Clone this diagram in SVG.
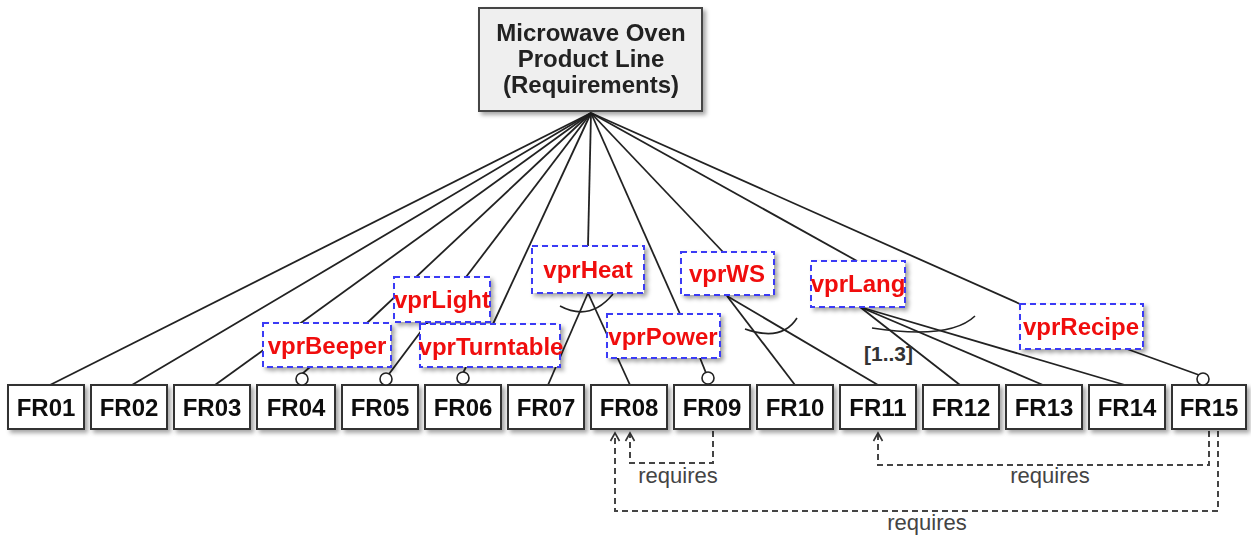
<svg xmlns="http://www.w3.org/2000/svg" width="1251" height="538" viewBox="0 0 1251 538">
<defs>
<filter id="sh" x="-10%" y="-10%" width="130%" height="140%">
<feDropShadow dx="3" dy="3" stdDeviation="2" flood-color="#000" flood-opacity="0.35"/>
</filter>
<marker id="arr" markerWidth="12" markerHeight="12" refX="0" refY="0" viewBox="-10 -6 12 12" orient="auto" markerUnits="userSpaceOnUse">
<path d="M-8,-4.5 L0,0 L-8,4.5" fill="none" stroke="#333" stroke-width="1.6"/>
</marker>
<style>
.ln{stroke:#222;stroke-width:1.8;fill:none}
.arc{stroke:#222;stroke-width:1.6;fill:none}
.req{stroke:#444;stroke-width:2;fill:none;stroke-dasharray:6 4}
.fr rect{fill:#fff;stroke:#333;stroke-width:2}
.fr text{font-family:"Liberation Sans",Arial,sans-serif;font-weight:bold;font-size:24px;fill:#111;text-anchor:middle}
.vp rect{fill:#fff;stroke:#3a3af5;stroke-width:2;stroke-dasharray:6 4}
.vp text{font-family:"Liberation Sans",Arial,sans-serif;font-weight:bold;font-size:24px;fill:#f01010;text-anchor:middle}
.rt rect{fill:#efefef;stroke:#444;stroke-width:2}
.rt text{font-family:"Liberation Sans",Arial,sans-serif;font-weight:bold;font-size:24px;fill:#222;text-anchor:middle}
.lbl{font-family:"Liberation Sans",Arial,sans-serif;font-size:22px;fill:#444;text-anchor:middle}
.card{font-family:"Liberation Sans",Arial,sans-serif;font-weight:bold;font-size:21px;fill:#333}
.opt{fill:#fff;stroke:#222;stroke-width:1.6}
</style>
</defs>

<g id="connectors">
<line class="ln" x1="591" y1="113" x2="50" y2="385"/>
<line class="ln" x1="591" y1="113" x2="132" y2="385"/>
<line class="ln" x1="591" y1="113" x2="215" y2="385"/>
<line class="ln" x1="591" y1="113" x2="367" y2="323"/>
<line class="ln" x1="591" y1="113" x2="466" y2="277"/>
<line class="ln" x1="591" y1="113" x2="493" y2="324"/>
<line class="ln" x1="591" y1="113" x2="588" y2="246"/>
<line class="ln" x1="591" y1="113" x2="680" y2="314"/>
<line class="ln" x1="591" y1="113" x2="723" y2="252"/>
<line class="ln" x1="591" y1="113" x2="857" y2="261"/>
<line class="ln" x1="591" y1="113" x2="1020" y2="304"/>
<line class="ln" x1="310" y1="367" x2="302" y2="374"/>
<line class="ln" x1="428" y1="322" x2="389" y2="374"/>
<line class="ln" x1="466" y1="367" x2="463" y2="373"/>
<line class="ln" x1="588" y1="293" x2="548" y2="385"/>
<line class="ln" x1="588" y1="293" x2="630" y2="385"/>
<line class="ln" x1="700" y1="358" x2="706" y2="373"/>
<line class="ln" x1="727" y1="296" x2="795" y2="385"/>
<line class="ln" x1="727" y1="296" x2="878" y2="385"/>
<line class="ln" x1="860" y1="307" x2="960" y2="385"/>
<line class="ln" x1="860" y1="307" x2="1043" y2="385"/>
<line class="ln" x1="860" y1="307" x2="1125" y2="385"/>
<line class="ln" x1="1127" y1="349" x2="1199" y2="375"/>
<path class="arc" d="M560,306 Q590,322 613,294"/>
<path class="arc" d="M745,329 Q782,342 797,318"/>
<path class="arc" d="M872,328 Q950,340 975,316"/>
<path class="req" d="M713,431 V463 H630 V433" marker-end="url(#arr)"/>
<path class="req" d="M1209,431 V465 H878 V433" marker-end="url(#arr)"/>
<path class="req" d="M1218,431 V511 H615 V433" marker-end="url(#arr)"/>
<text class="lbl" x="678" y="483">requires</text>
<text class="lbl" x="1050" y="483">requires</text>
<text class="lbl" x="927" y="530">requires</text>
<text class="card" x="864" y="361">[1..3]</text>
</g>

<g id="root" class="rt" filter="url(#sh)">
<rect x="479" y="8" width="223" height="103"/>
<text x="591" y="41">Microwave Oven</text>
<text x="591" y="67">Product Line</text>
<text x="591" y="93">(Requirements)</text>
</g>

<g id="vprBeeper" class="vp" filter="url(#sh)"><rect x="263" y="323" width="128" height="44"/><text x="327" y="354">vprBeeper</text></g>
<g id="vprLight" class="vp" filter="url(#sh)"><rect x="394" y="277" width="96" height="45"/><text x="442" y="308">vprLight</text></g>
<g id="vprTurntable" class="vp" filter="url(#sh)"><rect x="420" y="324" width="140" height="43"/><text x="491" y="355">vprTurntable</text></g>
<g id="vprHeat" class="vp" filter="url(#sh)"><rect x="532" y="246" width="112" height="47"/><text x="588" y="278">vprHeat</text></g>
<g id="vprPower" class="vp" filter="url(#sh)"><rect x="607" y="314" width="113" height="44"/><text x="663" y="345">vprPower</text></g>
<g id="vprWS" class="vp" filter="url(#sh)"><rect x="681" y="252" width="93" height="43"/><text x="727" y="282">vprWS</text></g>
<g id="vprLang" class="vp" filter="url(#sh)"><rect x="811" y="261" width="94" height="46"/><text x="858" y="292">vprLang</text></g>
<g id="vprRecipe" class="vp" filter="url(#sh)"><rect x="1020" y="304" width="123" height="45"/><text x="1081" y="335">vprRecipe</text></g>

<g id="FR01" class="fr" filter="url(#sh)"><rect x="8" y="385" width="76" height="44"/><text x="46" y="416">FR01</text></g>
<g id="FR02" class="fr" filter="url(#sh)"><rect x="91" y="385" width="76" height="44"/><text x="129" y="416">FR02</text></g>
<g id="FR03" class="fr" filter="url(#sh)"><rect x="174" y="385" width="76" height="44"/><text x="212" y="416">FR03</text></g>
<g id="FR04" class="fr" filter="url(#sh)"><rect x="257" y="385" width="78" height="44"/><text x="296" y="416">FR04</text></g>
<g id="FR05" class="fr" filter="url(#sh)"><rect x="342" y="385" width="76" height="44"/><text x="380" y="416">FR05</text></g>
<g id="FR06" class="fr" filter="url(#sh)"><rect x="425" y="385" width="76" height="44"/><text x="463" y="416">FR06</text></g>
<g id="FR07" class="fr" filter="url(#sh)"><rect x="508" y="385" width="76" height="44"/><text x="546" y="416">FR07</text></g>
<g id="FR08" class="fr" filter="url(#sh)"><rect x="591" y="385" width="76" height="44"/><text x="629" y="416">FR08</text></g>
<g id="FR09" class="fr" filter="url(#sh)"><rect x="674" y="385" width="76" height="44"/><text x="712" y="416">FR09</text></g>
<g id="FR10" class="fr" filter="url(#sh)"><rect x="757" y="385" width="76" height="44"/><text x="795" y="416">FR10</text></g>
<g id="FR11" class="fr" filter="url(#sh)"><rect x="840" y="385" width="76" height="44"/><text x="878" y="416">FR11</text></g>
<g id="FR12" class="fr" filter="url(#sh)"><rect x="923" y="385" width="76" height="44"/><text x="961" y="416">FR12</text></g>
<g id="FR13" class="fr" filter="url(#sh)"><rect x="1006" y="385" width="76" height="44"/><text x="1044" y="416">FR13</text></g>
<g id="FR14" class="fr" filter="url(#sh)"><rect x="1089" y="385" width="76" height="44"/><text x="1127" y="416">FR14</text></g>
<g id="FR15" class="fr" filter="url(#sh)"><rect x="1172" y="385" width="74" height="44"/><text x="1209" y="416">FR15</text></g>

<g id="optional-markers">
<circle class="opt" cx="302" cy="379" r="6"/>
<circle class="opt" cx="386" cy="379" r="6"/>
<circle class="opt" cx="463" cy="378" r="6"/>
<circle class="opt" cx="708" cy="378" r="6"/>
<circle class="opt" cx="1203" cy="379" r="6"/>
</g>
</svg>
